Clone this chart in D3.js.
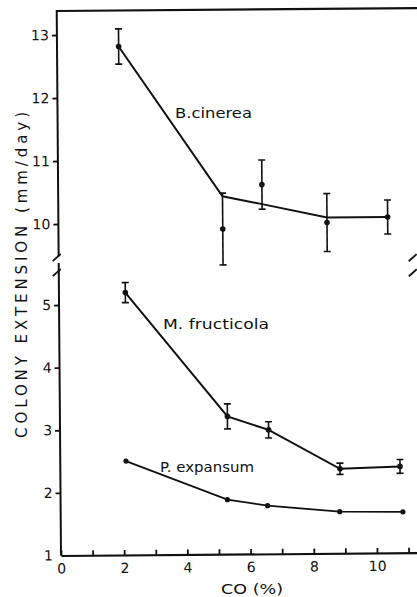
<!DOCTYPE html>
<html>
<head>
<meta charset="utf-8">
<script src="https://cdn.jsdelivr.net/npm/d3@7"></script>
<style>
  body { margin: 0; background: #fff; }
  svg { display: block; }
  text { font-family: 'DejaVu Sans', sans-serif; fill: #111; }
</style>
</head>
<body>
<div class="render"></div>
<script>
'use strict';

// CO concentration (%) and colony extension (mm/day)
var bcX = [1.95, 5.2, 6.45, 8.5, 10.42];
var bcMean = [12.81, 9.9, 10.6, 9.99, 10.07];
var bcErr = [0.28, 0.57, 0.39, 0.46, 0.27];
var bcLine = [12.81, 10.42, 10.29, 10.07, 10.07];

var mfX = [2.1, 5.3, 6.6, 8.85, 10.75];
var mfMean = [5.19, 3.2, 2.98, 2.35, 2.38];
var mfErr = [0.16, 0.2, 0.13, 0.09, 0.11];

var peX = [2.08, 5.28, 6.55, 8.83, 10.83];
var peMean = [2.5, 1.87, 1.77, 1.665, 1.655];

var xTicks = [0, 1, 2, 3, 4, 5, 6, 7, 8, 9, 10, 11];
var topTicks = [10, 11, 12, 13];
var bottomTicks = [1, 2, 3, 4, 5];

var seriesNames = ['B.cinerea', 'M. fructicola', 'P. expansum'];

function draw() {
   var w = 417;
   var h = 597;
   var ox = 61;
   var oy = 555.5;

   var svg = d3.select('.render').append('svg').attr('width', w).attr('height', h);
   var g = svg.append('g').attr('transform', 'rotate(-0.45,' + ox + ',' + oy + ')');

   var xScale = d3.scaleLinear().domain([0, 11.4]).range([ox, ox + 31.6 * 11.4]);
   var yTop = d3.scaleLinear().domain([10, 13]).range([224, 35]);
   var yBot = d3.scaleLinear().domain([1, 5]).range([oy, 305]);

   // frame lines
   g.append('line').attr('x1', ox).attr('x2', 425).attr('y1', 11).attr('y2', 11)
      .attr('stroke', '#111').attr('stroke-width', 2.2);
   g.append('line').attr('x1', ox).attr('x2', ox).attr('y1', 10).attr('y2', yTop(9.49))
      .attr('stroke', '#111').attr('stroke-width', 2);
   g.append('line').attr('x1', ox).attr('x2', ox).attr('y1', yBot(5.67)).attr('y2', oy)
      .attr('stroke', '#111').attr('stroke-width', 2);

   // axis breaks
   var breaks = [[ox, 257], [ox, 272], [417, 260], [417, 275]];
   g.selectAll('.brk').data(breaks).enter().append('line').attr('class', 'brk')
      .attr('x1', function (d) { return d[0] - 6; })
      .attr('y1', function (d) { return d[1] + 4; })
      .attr('x2', function (d) { return d[0] + 2; })
      .attr('y2', function (d) { return d[1] - 3; })
      .attr('stroke', '#111').attr('stroke-width', 1.8);

   var xAxis = d3.axisBottom(xScale).tickValues(xTicks).tickSizeInner(-5).tickSizeOuter(0)
      .tickPadding(8).tickFormat(function (d) { return d % 2 === 0 ? d : ''; });
   var xg = g.append('g').attr('transform', 'translate(0,' + oy + ')').call(xAxis);
   xg.select('.domain').attr('stroke', '#111').attr('stroke-width', 2.2);
   xg.selectAll('.tick line').attr('stroke', '#111').attr('stroke-width', 1.8);
   xg.selectAll('.tick text').style('font-size', '14px').style('font-family', 'DejaVu Sans, sans-serif').attr('fill', '#111');

   var yAxisTop = d3.axisLeft(yTop).tickValues(topTicks).tickSize(5).tickPadding(3).tickFormat(d3.format('d'));
   var ytg = g.append('g').attr('transform', 'translate(' + ox + ',0)').call(yAxisTop);
   ytg.select('.domain').remove();

   var yAxisBot = d3.axisLeft(yBot).tickValues(bottomTicks).tickSize(5).tickPadding(3).tickFormat(d3.format('d'));
   var ybg = g.append('g').attr('transform', 'translate(' + ox + ',0)').call(yAxisBot);
   ybg.select('.domain').remove();
   ybg.selectAll('.tick').filter(function (d) { return d === 1; }).select('line').remove();

   [ytg, ybg].forEach(function (a) {
      a.selectAll('.tick line').attr('stroke', '#111').attr('stroke-width', 1.8);
      a.selectAll('.tick text').style('font-size', '14px').style('font-family', 'DejaVu Sans, sans-serif').attr('fill', '#111');
   });

   var line = d3.line();

   // B. cinerea
   var bcPts = bcX.map(function (x, i) { return [xScale(x), yTop(bcLine[i])]; });
   g.append('path').attr('d', line(bcPts)).attr('fill', 'none').attr('stroke', '#111').attr('stroke-width', 2);
   drawErr(g, bcX, bcMean, bcErr, xScale, yTop);

   // M. fructicola
   var mfPts = mfX.map(function (x, i) { return [xScale(x), yBot(mfMean[i])]; });
   g.append('path').attr('d', line(mfPts)).attr('fill', 'none').attr('stroke', '#111').attr('stroke-width', 2);
   drawErr(g, mfX, mfMean, mfErr, xScale, yBot);

   // P. expansum
   var pePts = peX.map(function (x, i) { return [xScale(x), yBot(peMean[i])]; });
   g.append('path').attr('d', line(pePts)).attr('fill', 'none').attr('stroke', '#111').attr('stroke-width', 1.8);
   g.selectAll('.pe').data(pePts).enter().append('circle').attr('class', 'pe')
      .attr('cx', function (d) { return d[0]; }).attr('cy', function (d) { return d[1]; })
      .attr('r', 2.6).attr('fill', '#111');

   // labels
   var labelPos = [[175, 118, 77], [163, 328.5, 106], [160, 472, 94]];
   svg.selectAll('.lab').data(seriesNames).enter().append('text').attr('class', 'lab')
      .text(function (d) { return d; })
      .attr('x', function (d, i) { return labelPos[i][0]; })
      .attr('y', function (d, i) { return labelPos[i][1]; })
      .attr('textLength', function (d, i) { return labelPos[i][2]; })
      .attr('lengthAdjust', 'spacingAndGlyphs')
      .style('font-size', '14px');

   svg.append('text').text('CO (%)').attr('x', 252).attr('y', 594).attr('text-anchor', 'middle')
      .attr('textLength', 62).attr('lengthAdjust', 'spacingAndGlyphs').style('font-size', '14px');

   svg.append('text').text('COLONY  EXTENSION  (mm/day)')
      .attr('transform', 'translate(27,275)rotate(270)').attr('text-anchor', 'middle')
      .attr('textLength', 326).attr('lengthAdjust', 'spacing').style('font-size', '15px');
}

function drawErr(g, xs, means, errs, xScale, yScale) {
   var data = xs.map(function (x, i) { return { x: x, m: means[i], e: errs[i] }; });
   var eg = g.append('g');
   var cap = 3.5;
   eg.selectAll('.ev').data(data).enter().append('line').attr('class', 'ev')
      .attr('x1', function (d) { return xScale(d.x); }).attr('x2', function (d) { return xScale(d.x); })
      .attr('y1', function (d) { return yScale(d.m + d.e); }).attr('y2', function (d) { return yScale(d.m - d.e); })
      .attr('stroke', '#111').attr('stroke-width', 1.6);
   eg.selectAll('.ct').data(data).enter().append('line').attr('class', 'ct')
      .attr('x1', function (d) { return xScale(d.x) - cap; }).attr('x2', function (d) { return xScale(d.x) + cap; })
      .attr('y1', function (d) { return yScale(d.m + d.e); }).attr('y2', function (d) { return yScale(d.m + d.e); })
      .attr('stroke', '#111').attr('stroke-width', 1.6);
   eg.selectAll('.cb').data(data).enter().append('line').attr('class', 'cb')
      .attr('x1', function (d) { return xScale(d.x) - cap; }).attr('x2', function (d) { return xScale(d.x) + cap; })
      .attr('y1', function (d) { return yScale(d.m - d.e); }).attr('y2', function (d) { return yScale(d.m - d.e); })
      .attr('stroke', '#111').attr('stroke-width', 1.6);
   eg.selectAll('.dot').data(data).enter().append('circle').attr('class', 'dot')
      .attr('cx', function (d) { return xScale(d.x); }).attr('cy', function (d) { return yScale(d.m); })
      .attr('r', 2.8).attr('fill', '#111');
}

draw();
</script>
</body>
</html>
